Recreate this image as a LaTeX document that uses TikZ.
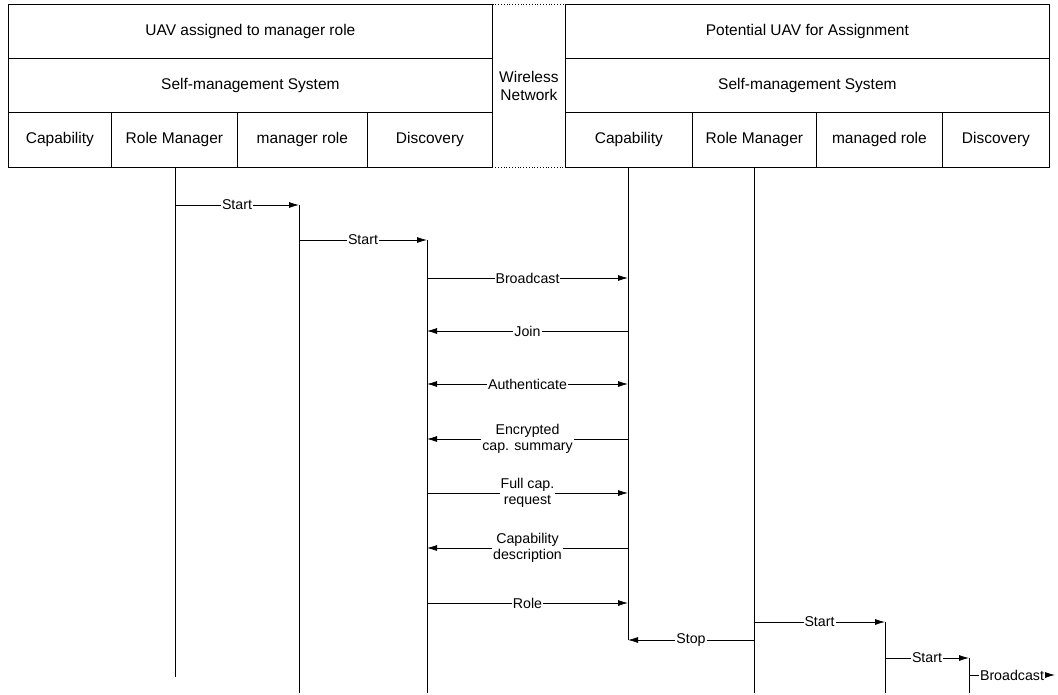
\documentclass[tikz,border=0pt]{standalone}
\usepackage{fontspec}
\setmainfont{Liberation Sans}
\usetikzlibrary{arrows.meta}
\tikzset{
  hdr/.style={draw, line width=0.8pt, anchor=north west, inner sep=0pt, font=\fontsize{15.5}{18}\selectfont},
  net/.style={draw, dotted, line width=0.8pt, anchor=north west, inner sep=0pt, align=center, font=\fontsize{15.5}{18}\selectfont},
  life/.style={line width=0.8pt},
  msg/.style={line width=0.8pt, -{Latex[length=10pt,width=6pt]}},
  lbl/.style={fill=white, inner sep=1pt, align=center, font=\fontsize{14.2}{16}\selectfont}
}
\begin{document}
\begin{tikzpicture}[x=1pt,y=-1pt]
\useasboundingbox (0,0) rectangle (1058,695);

\node[net, minimum width=73, minimum height=163] (wnet) at (492,4) {Wireless\\Network};

\node[hdr, minimum width=484, minimum height=54] (uavA) at (8,4) {UAV assigned to manager role};
\node[hdr, minimum width=484, minimum height=54] (smsA) at (8,58) {Self-management System};
\node[hdr, minimum width=103, minimum height=55] (capA) at (8,112) {Capability};
\node[hdr, minimum width=126, minimum height=55] (rmgA) at (111,112) {Role Manager};
\node[hdr, minimum width=130, minimum height=55] (mgrA) at (237,112) {manager role};
\node[hdr, minimum width=125, minimum height=55] (dscA) at (367,112) {Discovery};

\node[hdr, minimum width=484, minimum height=54] (uavB) at (565,4) {Potential UAV for Assignment};
\node[hdr, minimum width=484, minimum height=54] (smsB) at (565,58) {Self-management System};
\node[hdr, minimum width=127, minimum height=55] (capB) at (565,112) {Capability};
\node[hdr, minimum width=124, minimum height=55] (rmgB) at (692,112) {Role Manager};
\node[hdr, minimum width=126, minimum height=55] (mgrB) at (816,112) {managed role};
\node[hdr, minimum width=107, minimum height=55] (dscB) at (942,112) {Discovery};

\coordinate (rmA) at (175,167);
\coordinate (mrA) at (299,205);
\coordinate (dsA) at (427,240);
\coordinate (cpB) at (628,167);
\coordinate (rmB) at (754,167);
\coordinate (mrB) at (885,622);
\coordinate (dsB) at (969,658);
\coordinate (bot) at (0,693);
\coordinate (botA) at (0,677);
\coordinate (bEnd) at (1055,675);

\foreach \n/\y in {s1/205, s2/240, bc/278, jn/331, au/384, ec/439, fc/493, cd/548, ro/603, sp/640, s3/622, s4/658}
  \coordinate (\n) at (0,\y);

\draw[life] (rmA) -- (rmA |- botA);
\draw[life] (mrA) -- (mrA |- bot);
\draw[life] (dsA) -- (dsA |- bot);
\draw[life] (cpB) -- (cpB |- sp);
\draw[life] (rmB) -- (rmB |- bot);
\draw[life] (mrB) -- (mrB |- bot);
\draw[life] (dsB) -- (dsB |- bot);

\draw[msg] (rmA |- s1) -- node[lbl]{Start} (mrA |- s1);
\draw[msg] (mrA |- s2) -- node[lbl]{Start} (dsA |- s2);
\draw[msg] (dsA |- bc) -- node[lbl]{Broadcast} (cpB |- bc);
\draw[msg] (cpB |- jn) -- node[lbl]{Join} (dsA |- jn);
\draw[msg, {Latex[length=10pt,width=6pt]}-{Latex[length=10pt,width=6pt]}] (dsA |- au) -- node[lbl]{Authenticate} (cpB |- au);
\draw[msg] (cpB |- ec) -- node[lbl]{Encrypted\\cap. summary} (dsA |- ec);
\draw[msg] (dsA |- fc) -- node[lbl]{Full cap.\\request} (cpB |- fc);
\draw[msg] (cpB |- cd) -- node[lbl]{Capability\\description} (dsA |- cd);
\draw[msg] (dsA |- ro) -- node[lbl]{Role} (cpB |- ro);
\draw[msg] (rmB |- sp) -- node[lbl]{Stop} (cpB |- sp);
\draw[msg] (rmB |- s3) -- node[lbl]{Start} (mrB |- s3);
\draw[msg] (mrB |- s4) -- node[lbl]{Start} (dsB |- s4);
\draw[msg] (dsB |- bEnd) -- node[lbl]{Broadcast} (bEnd);
\end{tikzpicture}
\end{document}
